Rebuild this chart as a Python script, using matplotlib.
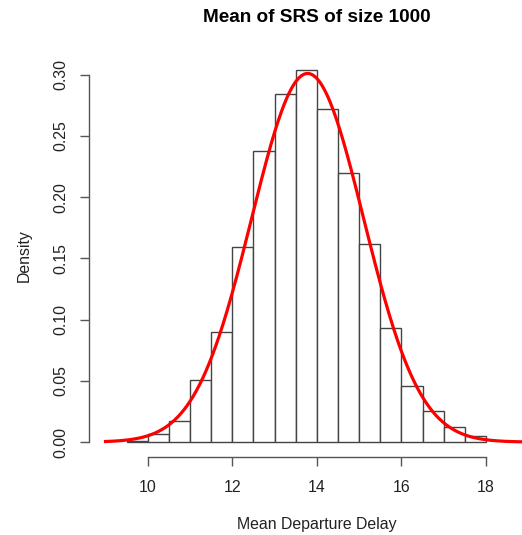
import numpy as np
import matplotlib.pyplot as plt

plt.rcParams['font.family'] = ['Liberation Sans', 'DejaVu Sans']

# histogram bins (width 0.5) and densities
bin_left = [9.5, 10.0, 10.5, 11.0, 11.5, 12.0, 12.5, 13.0, 13.5,
            14.0, 14.5, 15.0, 15.5, 16.0, 16.5, 17.0, 17.5]
density = [0.001, 0.0066, 0.017, 0.051, 0.090, 0.159, 0.238, 0.284, 0.304,
           0.272, 0.220, 0.162, 0.093, 0.046, 0.025, 0.012, 0.005]
bin_width = 0.5

# fitted normal curve
mu = 13.78
sigma = 1.325
curve_from, curve_to = 9.0, 19.0

xticks = [10, 12, 14, 16, 18]
yticks = [0.00, 0.05, 0.10, 0.15, 0.20, 0.25, 0.30]

W, H = 522, 535
fig = plt.figure(figsize=(W / 100, H / 100), dpi=100)
left, right, bottom, top = 89, 522, 457, 54
ax = fig.add_axes([left / W, (H - bottom) / H, (right - left) / W, (bottom - top) / H])

ax.bar(bin_left, density, width=bin_width, align='edge',
       facecolor='white', edgecolor='#444444', linewidth=1.0)

xs = np.linspace(curve_from, curve_to, 400)
ys = np.exp(-0.5 * ((xs - mu) / sigma) ** 2) / (sigma * np.sqrt(2 * np.pi))
ax.plot(xs, ys, color='red', linewidth=2.3)

ax.set_xlim(8.61, 18.85)
ax.set_ylim(-0.0122, 0.317)

for s in ['top', 'right']:
    ax.spines[s].set_visible(False)
ax.spines['left'].set_bounds(0, 0.30)
ax.spines['bottom'].set_bounds(10, 18)
for s in ['left', 'bottom']:
    ax.spines[s].set_color('#555555')
    ax.spines[s].set_linewidth(1.0)

ax.set_xticks(xticks)
ax.set_xticklabels([str(t) for t in xticks])
ax.set_yticks(yticks)
ax.set_yticklabels(['%.2f' % t for t in yticks], rotation=90, va='center')
ax.tick_params(direction='out', length=6.5, width=1.0, color='#555555',
               labelsize=11.4, labelcolor='#222222', pad=10)
ax.tick_params(axis='y', pad=8)

fig.text(317 / W, 1 - 525 / H, 'Mean Departure Delay', ha='center', va='center',
         fontsize=11.4, color='#222222')
ax.set_ylabel('Density', fontsize=11.4, color='#222222', labelpad=16)
fig.text(317 / W, 1 - 18 / H, 'Mean of SRS of size 1000',
         ha='center', va='center', fontsize=13.7, fontweight='bold')

fig.savefig('out.png', dpi=100)
